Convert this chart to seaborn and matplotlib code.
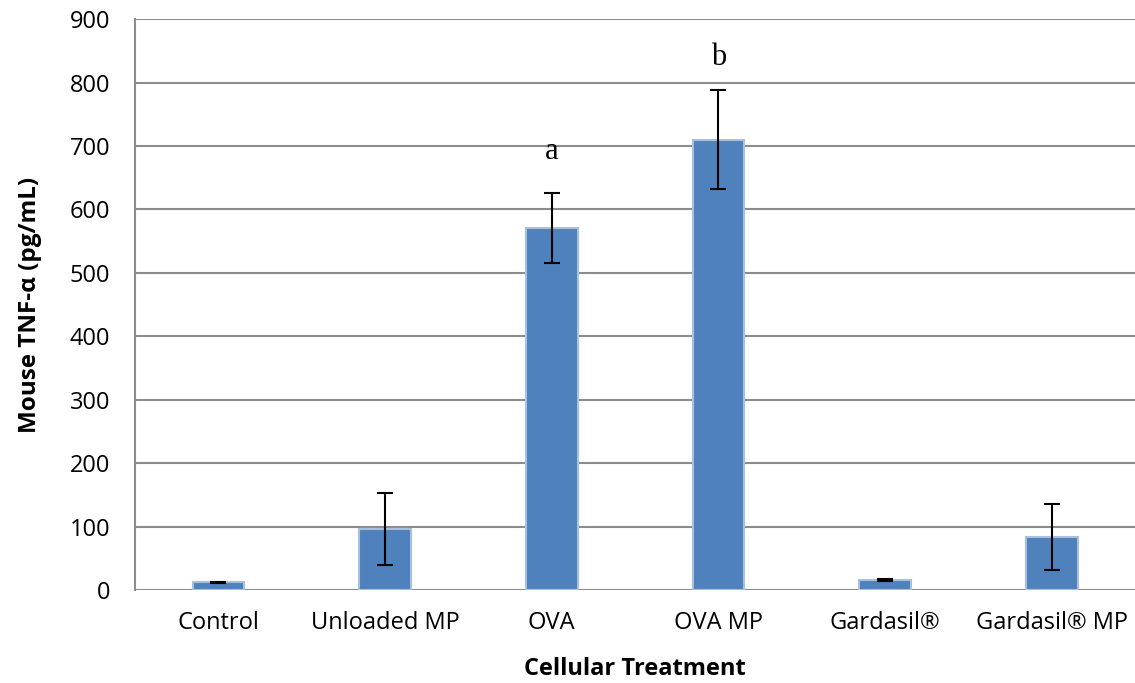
import pandas as pd
import matplotlib.pyplot as plt
import seaborn as sns

# data
treatments = ['Control', 'Unloaded MP', 'OVA', 'OVA MP', 'Gardasil®', 'Gardasil® MP']
tnf_mean = [12, 96, 571, 710, 16, 83]
tnf_err = [1, 57, 55, 78, 2, 52]
sig_labels = ['', '', 'a', 'b', '', '']
sig_heights = [0, 0, 692, 840, 0, 0]

df = pd.DataFrame({'Treatment': treatments, 'TNF': tnf_mean})

sns.set_style('white')
plt.rcParams['font.family'] = ['Open Sans', 'DejaVu Sans']
plt.rcParams['text.color'] = 'black'
plt.rcParams['xtick.color'] = 'black'
plt.rcParams['ytick.color'] = 'black'
plt.rcParams['axes.labelcolor'] = 'black'

fig = plt.figure(figsize=(11.35, 6.83), dpi=100)
ax = fig.add_axes([0.119, 0.136, 0.881, 0.836])

sns.barplot(data=df, x='Treatment', y='TNF', ax=ax, color='#4F81BD',
            saturation=1, width=0.31, errorbar=None,
            edgecolor='#A7C0DE', linewidth=1.5, zorder=3)
ax.errorbar(range(len(treatments)), tnf_mean, yerr=tnf_err, fmt='none',
            ecolor='black', elinewidth=1.5, capsize=6, capthick=1.5, zorder=4)

for i, (lab, h) in enumerate(zip(sig_labels, sig_heights)):
    if lab:
        ax.text(i, h, lab, ha='center', va='center', fontsize=22,
                family='Liberation Serif')

ax.set_ylim(0, 900)
ax.set_xlim(-0.5, 5.5)
ax.set_yticks(range(0, 901, 100))
ax.yaxis.grid(True, color='#8C8C8C', linewidth=1.5, zorder=0)
ax.set_axisbelow(True)
for s in ['top', 'right', 'bottom']:
    ax.spines[s].set_visible(False)
ax.spines['left'].set_color('#8C8C8C')
ax.spines['left'].set_linewidth(1.5)
ax.tick_params(axis='both', length=0, labelsize=17)
ax.tick_params(axis='y', pad=18)
ax.tick_params(axis='x', pad=15)
ax.set_xlabel('Cellular Treatment', fontsize=17, fontweight='bold', labelpad=16)
ax.set_ylabel('Mouse TNF-α (pg/mL)', fontsize=17.5, fontweight='bold', labelpad=20)

fig.savefig('out.png', dpi=100)
